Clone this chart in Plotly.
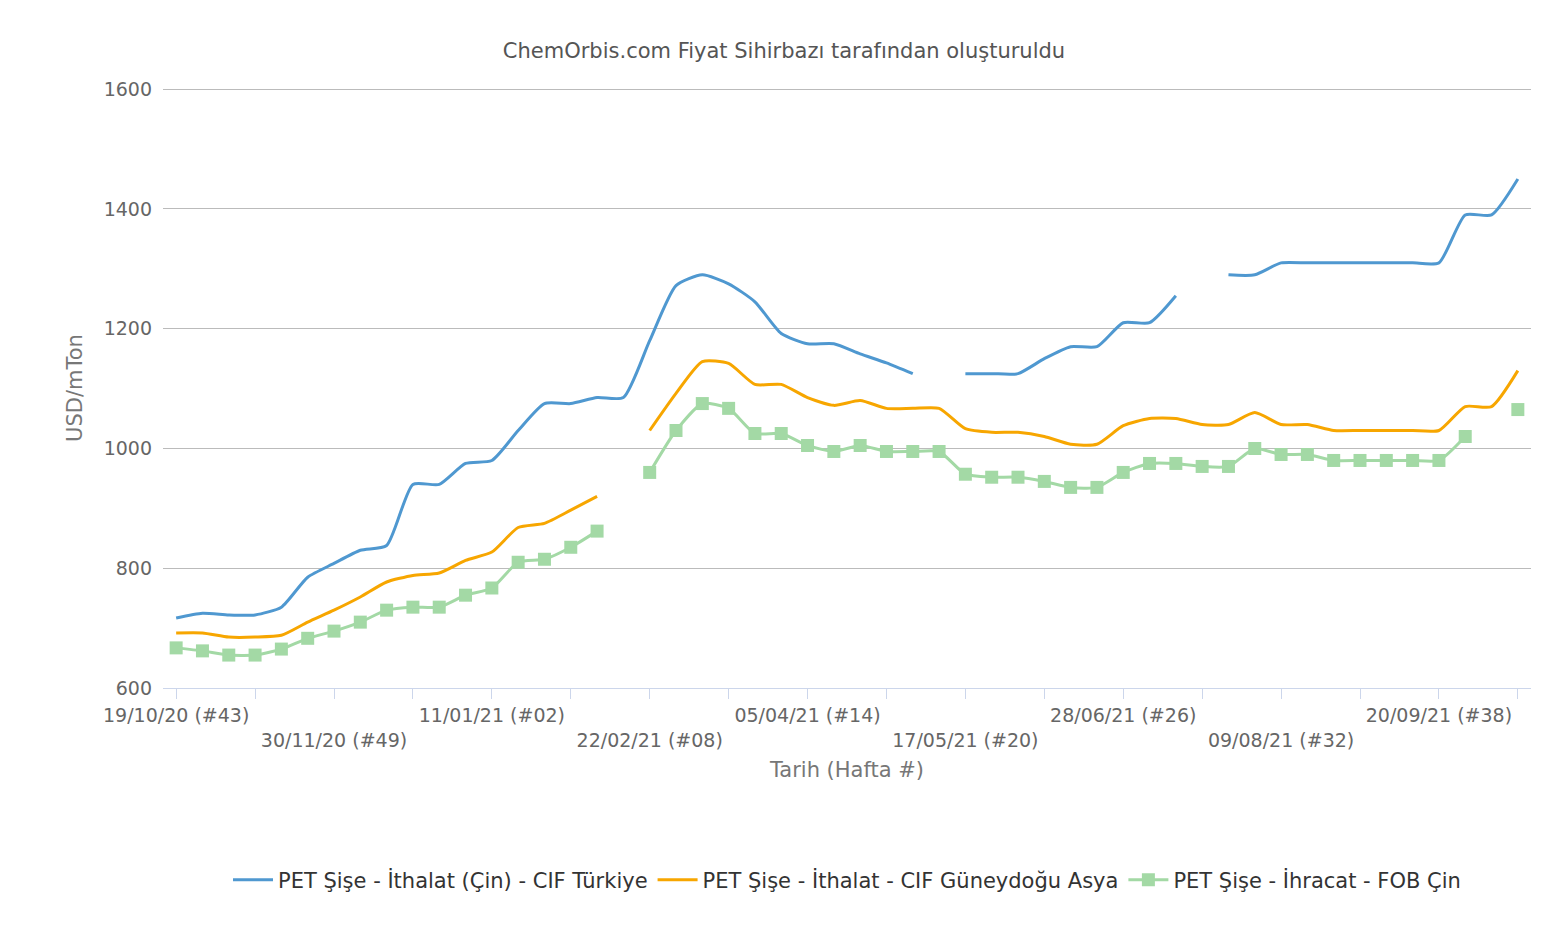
import plotly.graph_objects as go

weeks = list(range(52))
tick_idx = list(range(0, 52, 3))
tick_labels = {0: "19/10/20 (#43)", 6: "<br>30/11/20 (#49)", 12: "11/01/21 (#02)",
               18: "<br>22/02/21 (#08)", 24: "05/04/21 (#14)", 30: "<br>17/05/21 (#20)",
               36: "28/06/21 (#26)", 42: "<br>09/08/21 (#32)", 48: "20/09/21 (#38)"}

cif_turkiye = [717, 725, 722, 722, 735, 785, 808, 830, 838, 940, 940, 975, 980, 1030, 1075, 1075,
               1085, 1085, 1180, 1272, 1290, 1275, 1245, 1192, 1175, 1175, 1158, 1143, 1125, None,
               1125, 1125, 1125, 1150, 1170, 1170, 1210, 1210, 1255, None, 1290, 1290, 1310, 1310,
               1310, 1310, 1310, 1310, 1310, 1390, 1390, 1450]
cif_gda = [692, 692, 685, 685, 688, 710, 730, 752, 777, 788, 792, 813, 827, 868, 875, 897,
           920, None, 1030, 1092, 1145, 1142, 1107, 1107, 1085, 1072, 1080, 1067, 1067, 1067,
           1033, 1027, 1027, 1020, 1007, 1007, 1038, 1050, 1050, 1040, 1040, 1060, 1040, 1040,
           1030, 1030, 1030, 1030, 1030, 1070, 1070, 1130]
fob_cin = [667, 662, 655, 655, 665, 683, 695, 710, 730, 735, 735, 755, 767, 810, 815, 835,
           862, None, 960, 1030, 1075, 1067, 1025, 1025, 1005, 995, 1005, 995, 995, 995,
           957, 952, 952, 945, 935, 935, 960, 975, 975, 970, 970, 1000, 990, 990,
           980, 980, 980, 980, 980, 1020, None, 1065]

fig = go.Figure()
fig.add_scatter(x=weeks, y=cif_turkiye, mode="lines", name="PET Şişe - İthalat (Çin) - CIF Türkiye",
                line=dict(color="#4f98d0", width=3, shape="spline", smoothing=0.6))
fig.add_scatter(x=weeks, y=cif_gda, mode="lines", name="PET Şişe - İthalat - CIF Güneydoğu Asya",
                line=dict(color="#f7a600", width=3, shape="spline", smoothing=0.6))
fig.add_scatter(x=weeks, y=fob_cin, mode="lines+markers", name="PET Şişe - İhracat - FOB Çin",
                line=dict(color="#a3d9a5", width=3, shape="spline", smoothing=0.6),
                marker=dict(symbol="square", size=13, color="#a3d9a5"))

fig.update_layout(
    width=1552, height=930, plot_bgcolor="white", paper_bgcolor="white",
    font=dict(family="DejaVu Sans", color="#666666", size=19),
    margin=dict(l=155, r=29, t=80, b=250),
    title=dict(text="ChemOrbis.com Fiyat Sihirbazı tarafından oluşturuldu", x=0.5, y=0.962,
               xanchor="center", font=dict(size=21, color="#555555")),
    xaxis=dict(range=[-0.5, 51.5], tickmode="array", tickvals=tick_idx,
               ticktext=[tick_labels.get(i, "") for i in tick_idx],
               showgrid=False, showline=True, linecolor="#ccd6eb", linewidth=1,
               ticks="outside", ticklen=10, tickcolor="#ccd6eb", zeroline=False,
               title=dict(text="Tarih (Hafta #)", font=dict(size=21, color="#777777"), standoff=12)),
    yaxis=dict(range=[600, 1602], tickvals=[600, 800, 1000, 1200, 1400, 1600],
               gridcolor="#bbbbbb", zeroline=False, ticks="", ticklabelstandoff=10,
               title=dict(text="USD/mTon", font=dict(size=21, color="#777777"))),
    legend=dict(orientation="h", x=0.5, xanchor="center", y=-0.32, yanchor="middle",
                font=dict(size=21, color="#333333"), itemwidth=40, tracegroupgap=30),
)

fig.write_html("out.html")
